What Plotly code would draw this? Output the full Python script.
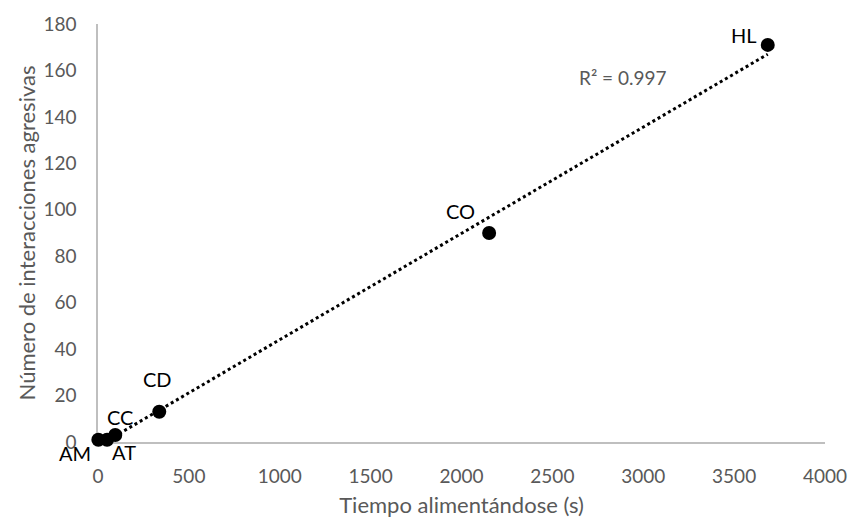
import numpy as np
import plotly.graph_objects as go

# Feeding time vs. aggressive interactions per species group
groups = ["AM", "AT", "CC", "CD", "CO", "HL"]
feeding_time = [2, 50, 95, 337, 2152, 3685]
aggressive = [1, 1, 3, 13, 90, 171]

x_ticks = [0, 500, 1000, 1500, 2000, 2500, 3000, 3500, 4000]
y_ticks = [0, 20, 40, 60, 80, 100, 120, 140, 160, 180]

# Label offsets (pixels) relative to each marker
label_dx = [-23, 17, 5, -2, -29, -24]
label_dy = [-13, -12, 18, 33, 22, 10]

font_family = "Lato, 'Open Sans', sans-serif"
axis_grey = "#595959"

# Least-squares linear trend
slope, intercept = np.polyfit(feeding_time, aggressive, 1)
pred = slope * np.array(feeding_time) + intercept
ss_res = np.sum((np.array(aggressive) - pred) ** 2)
ss_tot = np.sum((np.array(aggressive) - np.mean(aggressive)) ** 2)
r2 = 1 - ss_res / ss_tot
trend_x = [min(feeding_time), max(feeding_time)]
trend_y = [slope * v + intercept for v in trend_x]

fig = go.Figure()
fig.add_trace(go.Scatter(
    x=trend_x, y=trend_y, mode="lines",
    line=dict(color="black", width=3, dash="dot"),
    hoverinfo="skip", showlegend=False,
))
fig.add_trace(go.Scatter(
    x=feeding_time, y=aggressive, mode="markers",
    marker=dict(color="black", size=14),
    cliponaxis=False, showlegend=False,
))

for g, xv, yv, dx, dy in zip(groups, feeding_time, aggressive, label_dx, label_dy):
    fig.add_annotation(
        x=xv, y=yv, text=g, showarrow=False,
        xshift=dx, yshift=dy,
        font=dict(family=font_family, size=20, color="black"),
    )

fig.add_annotation(
    x=2890, y=157, text=f"R² = {r2:.3f}", showarrow=False,
    font=dict(family=font_family, size=19, color=axis_grey),
)

fig.update_layout(
    width=859, height=526,
    margin=dict(l=98, r=25, t=21, b=81),
    paper_bgcolor="white", plot_bgcolor="white",
    font=dict(family=font_family, size=19, color=axis_grey),
    xaxis=dict(
        range=[0, 4000], tickvals=x_ticks, ticks="",
        showgrid=False, zeroline=False, layer="below traces",
        showline=True, linecolor="#bfbfbf", linewidth=1.5,
        ticklabelstandoff=16,
        title=dict(text="Tiempo alimentándose (s)", standoff=12,
                   font=dict(size=22, color=axis_grey)),
        tickfont=dict(size=19, color=axis_grey),
    ),
    yaxis=dict(
        range=[0, 180], tickvals=y_ticks, ticks="",
        showgrid=False, zeroline=False, layer="below traces",
        showline=True, linecolor="#bfbfbf", linewidth=1.5,
        ticklabelstandoff=16,
        title=dict(text="Número de interacciones agresivas", standoff=2,
                   font=dict(size=22, color=axis_grey)),
        tickfont=dict(size=19, color=axis_grey),
    ),
)

fig.write_html("out.html")
